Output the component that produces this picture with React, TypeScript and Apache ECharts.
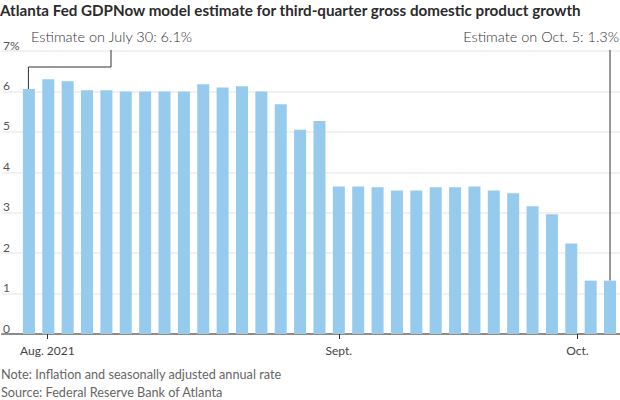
import React, { useEffect, useRef } from "react";
import * as echarts from "echarts";

const title = "Atlanta Fed GDPNow model estimate for third-quarter gross domestic product growth";
const noteText = "Note: Inflation and seasonally adjusted annual rate";
const sourceText = "Source: Federal Reserve Bank of Atlanta";
const firstNote = "Estimate on July 30: 6.1%";
const lastNote = "Estimate on Oct. 5: 1.3%";

// GDPNow estimates, one per update (in order)
const estimates = [
  6.06, 6.3, 6.25, 6.03, 6.03, 6.0, 6.0, 6.0, 6.0, 6.18, 6.1, 6.13, 6.0, 5.68, 5.05, 5.27,
  3.65, 3.65, 3.63, 3.55, 3.55, 3.63, 3.63, 3.65, 3.55, 3.48, 3.16, 2.96, 2.24, 1.32, 1.32,
];
const updateIndex = estimates.map((_, i) => i);

const xTickLabels = ["Aug. 2021", "Sept.", "Oct."];
const xTickValues = [0.95, 16, 28.32];
const yTicks = [0, 1, 2, 3, 4, 5, 6, 7];

const FONT = "Lato, 'Noto Sans', sans-serif";

export default function App() {
  const ref = useRef<HTMLDivElement>(null);
  useEffect(() => {
    document.body.style.margin = "0";
    const chart = echarts.init(ref.current!, null, { renderer: "svg" });
    chart.setOption({
      animation: false,
      grid: { left: 0, right: 0, top: 51, bottom: 66 },
      xAxis: {
        type: "value",
        min: -1.39,
        max: 30.515,
        splitLine: { show: false },
        axisLine: { show: true, onZero: false, lineStyle: { color: "#8c8c8c", width: 2 } },
        axisTick: {
          show: true,
          customValues: xTickValues,
          length: 5,
          lineStyle: { color: "#333", width: 1 },
        },
        axisLabel: {
          customValues: xTickValues,
          formatter: (v: number) => {
            const k = xTickValues.findIndex((t) => Math.abs(t - v) < 1e-6);
            return k >= 0 ? xTickLabels[k] : "";
          },
          color: "#444",
          fontSize: 12,
          fontFamily: FONT,
          margin: 10,
        },
      },
      yAxis: {
        type: "value",
        min: 0,
        max: 7,
        interval: 1,
        axisLine: { show: false },
        axisTick: { show: false },
        splitLine: { lineStyle: { color: "#ececec", width: 1.5 } },
        axisLabel: {
          inside: true,
          margin: 1,
          verticalAlign: "bottom",
          align: "left",
          color: "#555",
          fontSize: 12,
          fontFamily: FONT,
          formatter: (v: number) => (v === yTicks[yTicks.length - 1] ? v + "%" : String(v)),
        },
      },
      series: [
        {
          type: "bar",
          barWidth: 12,
          data: updateIndex.map((i) => [i, estimates[i]]),
          itemStyle: { color: "#96cbee" },
        },
      ],
    });

    const n = estimates.length - 1;
    const p0 = chart.convertToPixel({ seriesIndex: 0 }, [0, estimates[0]]) as number[];
    const pn = chart.convertToPixel({ seriesIndex: 0 }, [n, estimates[n]]) as number[];
    const lineStyle = { stroke: "#333", lineWidth: 1, fill: null };
    chart.setOption({
      graphic: [
        {
          type: "text",
          left: 0,
          top: 2,
          style: { text: title, font: `bold 15.2px ${FONT}`, fill: "#2b2b2b" },
        },
        {
          type: "text",
          x: 31,
          y: 36,
          style: { text: firstNote, font: `300 14.5px ${FONT}`, fill: "#333", verticalAlign: "middle" },
        },
        {
          type: "text",
          x: 619,
          y: 36,
          style: { text: lastNote, font: `300 14.5px ${FONT}`, fill: "#333", align: "right", verticalAlign: "middle" },
        },
        {
          type: "polyline",
          shape: { points: [[111, 50], [111, 67], [p0[0] - 0.5, 67], [p0[0] - 0.5, p0[1]]] },
          style: lineStyle,
        },
        {
          type: "line",
          shape: { x1: pn[0], y1: 50, x2: pn[0], y2: pn[1] },
          style: lineStyle,
        },
        {
          type: "text",
          x: 1,
          y: 374,
          style: { text: noteText, font: `12.7px ${FONT}`, fill: "#666", verticalAlign: "middle" },
        },
        {
          type: "text",
          x: 1,
          y: 392,
          style: { text: sourceText, font: `12.7px ${FONT}`, fill: "#666", verticalAlign: "middle" },
        },
      ],
    });
    return () => chart.dispose();
  }, []);
  return <div ref={ref} style={{ position: "absolute", left: 0, top: 0, width: 620, height: 400 }} />;
}
